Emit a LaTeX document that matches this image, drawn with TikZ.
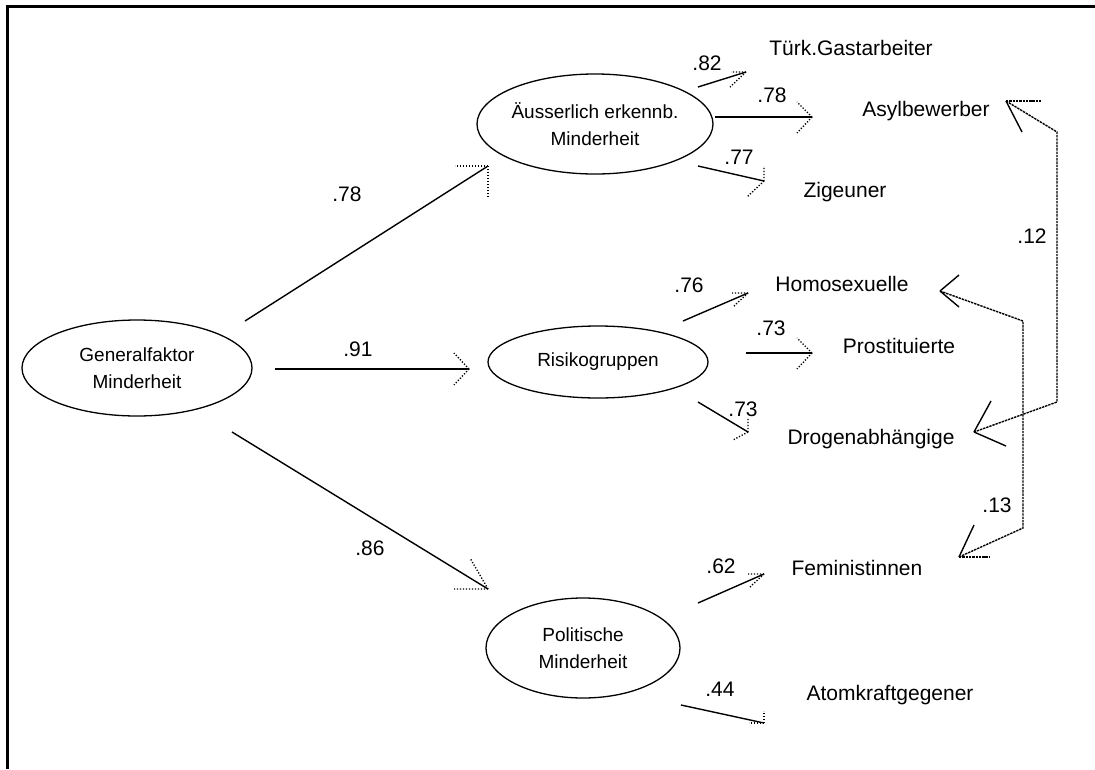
\documentclass[tikz,border=0pt]{standalone}
\usepackage{fontspec}
\setmainfont{Liberation Sans}
\usetikzlibrary{shapes.geometric}

\tikzset{
  factor/.style={draw, ellipse, line width=1.3pt, inner sep=0pt, align=center,
    font=\fontsize{19}{27}\selectfont},
  lbl/.style={anchor=base, inner sep=0pt},
  load/.style={line width=1.4pt},
  tipdots/.style={line width=1.4pt, dash pattern=on 1.2pt off 1.8pt},
  corr/.style={line width=1.4pt, dash pattern=on 2.4pt off 0.9pt},
}

\begin{document}
\begin{tikzpicture}[x=1pt, y=-1pt, font=\fontsize{21}{28}\selectfont]
\useasboundingbox (0,0) rectangle (1095,769);
\draw[line width=3pt] (7.5,769) -- (7.5,6.5) -- (1095,6.5);

% factors
\node[factor, minimum width=230, minimum height=96] (gen) at (137,368) {Generalfaktor\\Minderheit};
\node[factor, minimum width=216, minimum height=100] (aus) at (595,124) {Äusserlich erkennb.\\Minderheit};
\node[factor, minimum width=220, minimum height=72] (risk) at (598,362) {Risikogruppen};
\node[factor, minimum width=194, minimum height=100] (pol) at (583,648) {Politische\\Minderheit};

% items
\node[lbl] (tuerk) at (851,55) {Türk.Gastarbeiter};
\node[lbl] (asyl) at (926,116) {Asylbewerber};
\node[lbl] (zig) at (845,197) {Zigeuner};
\node[lbl] (homo) at (842,291) {Homosexuelle};
\node[lbl] (prost) at (899,353) {Prostituierte};
\node[lbl] (drog) at (871,444) {Drogenabhängige};
\node[lbl] (fem) at (857,575) {Feministinnen};
\node[lbl] (atom) at (890,700) {Atomkraftgegener};

% ends of the loading arrows
\coordinate (s1) at (245,321);  \coordinate (t1) at (488,166);
\coordinate (s2) at (275,369);  \coordinate (t2) at (469,369);
\coordinate (s3) at (232,432);  \coordinate (t3) at (488,589);
\coordinate (s4) at (698,87);   \coordinate (t4) at (746,72);
\coordinate (s5) at (715,117);  \coordinate (t5) at (812,117);
\coordinate (s6) at (698,166);  \coordinate (t6) at (764,181);
\coordinate (s7) at (683,321);  \coordinate (t7) at (748,293);
\coordinate (s8) at (746,353);  \coordinate (t8) at (812,353);
\coordinate (s9) at (698,402);  \coordinate (t9) at (748,432);
\coordinate (s10) at (698,603); \coordinate (t10) at (764,574);
\coordinate (s11) at (681,705); \coordinate (t11) at (764,723);

\draw[load] (s1) -- (t1);
\draw[tipdots] (t1) -- ++(-33,0) (t1) -- ++(0,32);
\draw[load] (s2) -- (t2);
\draw[tipdots] (t2) -- ++(-15,-16) (t2) -- ++(-15,16);
\draw[load] (s3) -- (t3);
\draw[tipdots] (t3) -- ++(-34,0) (t3) -- ++(-18,-31);

\draw[load] (s4) -- (t4);
\draw[tipdots] (t4) -- ++(-15,0) (t4) -- ++(-16,15);
\draw[load] (s5) -- (t5);
\draw[tipdots] (t5) -- ++(-15,-15) (t5) -- ++(-15,16);
\draw[load] (s6) -- (t6);
\draw[tipdots] (t6) -- ++(0,-15) (t6) -- ++(-17,16);

\draw[load] (s7) -- (t7);
\draw[tipdots] (t7) -- ++(-16,0) (t7) -- ++(-14,13);
\draw[load] (s8) -- (t8);
\draw[tipdots] (t8) -- ++(-15,-15) (t8) -- ++(-15,16);
\draw[load] (s9) -- (t9);
\draw[tipdots] (t9) -- ++(0,-14) (t9) -- ++(-15,8);

\draw[load] (s10) -- (t10);
\draw[tipdots] (t10) -- ++(-16,0) (t10) -- ++(-14,13);
\draw[load] (s11) -- (t11);
\draw[tipdots] (t11) -- ++(0,-12) (t11) -- ++(-15,0);

% loadings
\node[lbl] (l1) at (347,201) {.78};
\node[lbl] (l2) at (358,356) {.91};
\node[lbl] (l3) at (370,555) {.86};
\node[lbl] (l4) at (707,70) {.82};
\node[lbl] (l5) at (772,102) {.78};
\node[lbl] (l6) at (739,164) {.77};
\node[lbl] (l7) at (689,292) {.76};
\node[lbl] (l8) at (771,335) {.73};
\node[lbl] (l9) at (743,416) {.73};
\node[lbl] (l10) at (721,573) {.62};
\node[lbl] (l11) at (720,696) {.44};

% correlated errors
\coordinate (c1) at (1006,101); \coordinate (c2) at (974,432);
\draw[corr] (c1) -- (1057,132) -- (1057,402) -- (c2);
\draw[corr] (c1) -- ++(35,0);
\draw[load] (c1) -- ++(16,31);
\draw[load] (c2) -- ++(17,-31) (c2) -- ++(32,14);
\node[lbl] (r1) at (1032,243) {.12};

\coordinate (c3) at (940,291); \coordinate (c4) at (959,557);
\draw[corr] (c3) -- (1023,321) -- (1023,528) -- (c4);
\draw[corr] (c4) -- ++(30,0);
\draw[load] (c3) -- ++(19,-16) (c3) -- ++(19,16);
\draw[load] (c4) -- ++(15,-32);
\node[lbl] (r2) at (997,512) {.13};
\end{tikzpicture}
\end{document}
